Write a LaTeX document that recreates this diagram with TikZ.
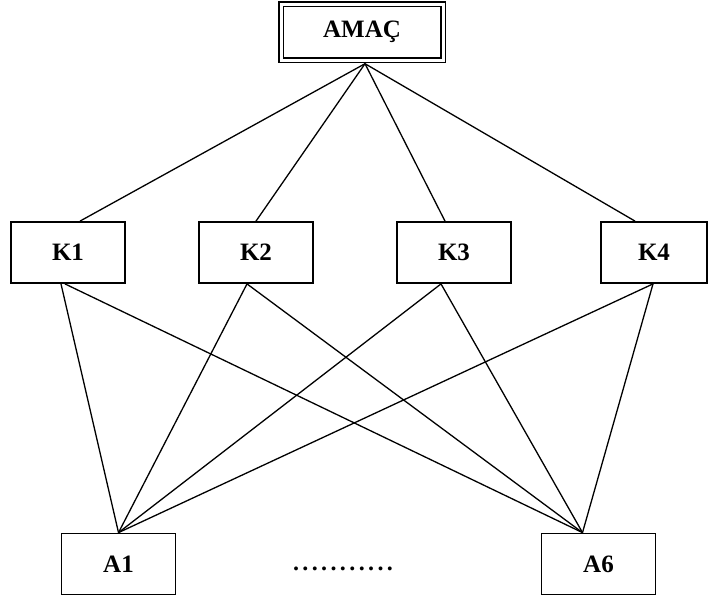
\documentclass[tikz,border=0pt]{standalone}
\usepackage{fontspec}
\setmainfont{Liberation Serif}
\begin{document}
\begin{tikzpicture}[x=1pt,y=-1pt,
  box/.style={draw, line width=1.8pt, minimum width=114pt, minimum height=61pt, inner sep=0pt, font=\bfseries\fontsize{25}{28}\selectfont},
  goalbox/.style={draw, double, line width=1.4pt, double distance=3pt, minimum width=162pt, minimum height=56pt, inner sep=0pt, font=\bfseries\fontsize{25}{28}\selectfont},
  link/.style={line width=1.3pt}]
\useasboundingbox (0,0) rectangle (708,598);
\node[goalbox] (amac) at (362,32) {AMAÇ};
\node[box] (k1) at (68,252.5) {K1};
\node[box] (k2) at (256,252.5) {K2};
\node[box] (k3) at (454,252.5) {K3};
\node[box, minimum width=106pt] (k4) at (654,252.5) {K4};
\node[box] (a1) at (118.5,564) {A1};
\node[box] (a6) at (598.5,564) {A6};
\node[font=\bfseries\fontsize{24}{26}\selectfont, inner sep=0pt] (dots) at (343,569) {.\kern3.4pt.\kern3.4pt.\kern3.4pt.\kern3.4pt.\kern3.4pt.\kern3.4pt.\kern3.4pt.\kern3.4pt.\kern3.4pt.\kern3.4pt.};
\coordinate (top) at ([xshift=3pt,yshift=-3pt]amac.south);
\draw[link] (top) -- ([xshift=12pt]k1.north);
\draw[link] (top) -- (k2.north);
\draw[link] (top) -- ([xshift=-9pt]k3.north);
\draw[link] (top) -- ([xshift=-19pt]k4.north);
\coordinate (a1t) at (a1.north);
\coordinate (a6t) at ([xshift=-16pt]a6.north);
\draw[link] ([xshift=-7pt]k1.south) -- (a1t);
\draw[link] ([xshift=-3pt]k1.south) -- (a6t);
\draw[link] ([xshift=-9pt]k2.south) -- (a1t);
\draw[link] ([xshift=-9pt]k2.south) -- (a6t);
\draw[link] ([xshift=-13pt]k3.south) -- (a1t);
\draw[link] ([xshift=-13pt]k3.south) -- (a6t);
\draw[link] ([xshift=-1pt]k4.south) -- (a1t);
\draw[link] ([xshift=-1pt]k4.south) -- (a6t);
\end{tikzpicture}
\end{document}
